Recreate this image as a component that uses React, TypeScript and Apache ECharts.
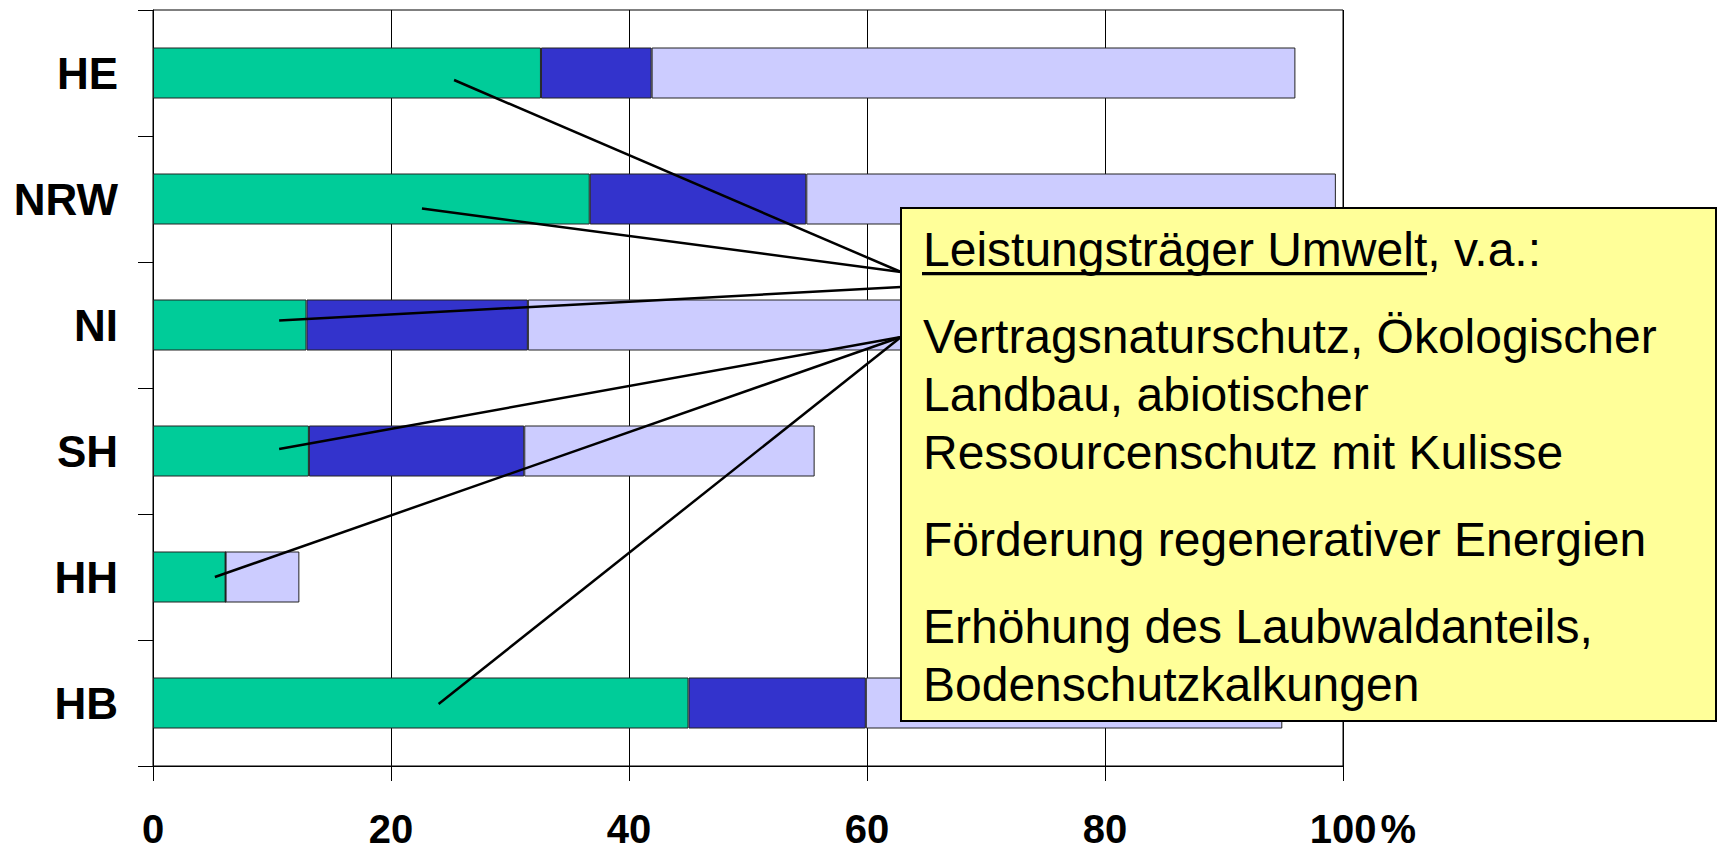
import React, { useEffect, useRef } from "react";
import * as echarts from "echarts";

// ---- Data ----
const categories = ["HE", "NRW", "NI", "SH", "HH", "HB"];
const greenValues = [32.6, 36.7, 12.9, 13.1, 6.1, 45.0];
const blueValues = [9.3, 18.2, 18.6, 18.1, 0, 14.9];
const lightValues = [54.1, 44.5, 56.5, 24.4, 6.2, 35.0];
const xTickValues = [0, 20, 40, 60, 80, 100];
const xTickLabels = ["0", "20", "40", "60", "80", "100%"];

const calloutTitle = "Leistungsträger Umwelt";
const calloutTitleRest = ", v.a.:";
const calloutParagraphs = [
  ["Vertragsnaturschutz, Ökologischer", "Landbau, abiotischer", "Ressourcenschutz mit Kulisse"],
  ["Förderung regenerativer Energien"],
  ["Erhöhung des Laubwaldanteils,", "Bodenschutzkalkungen"],
];

// leader lines: category and value where each line starts inside a bar
const leaderCategories = ["HE", "NRW", "NI", "SH", "HH", "HB"];
const leaderValues = [25.3, 22.6, 10.6, 10.6, 5.2, 24.0];
const leaderAnchorGroup = [0, 0, 1, 2, 2, 2];

const FONT = "'Liberation Sans', Arial, Helvetica, sans-serif";

export default function App() {
  const ref = useRef<HTMLDivElement>(null);

  useEffect(() => {
    if (!ref.current) return;
    const chart = echarts.init(ref.current, null, { renderer: "svg" });

    const barStyle = (color: string) => ({
      color,
      borderColor: "#222",
      borderWidth: 1,
    });

    const labelFmt = (v: number) => {
      const i = xTickValues.indexOf(v);
      const lab = i >= 0 ? xTickLabels[i] : String(v);
      if (lab.endsWith("%")) {
        return `{s| }{n|${lab.slice(0, -1)}}{p|%}`;
      }
      return lab;
    };

    const xFont = 40;
    const xLine = 34;

    chart.setOption({
      animation: false,
      backgroundColor: "#fff",
      grid: {
        left: 153,
        right: 382,
        top: 10,
        bottom: 86,
        show: true,
        borderColor: "#000",
        borderWidth: 1,
        backgroundColor: "transparent",
        containLabel: false,
        outerBoundsMode: "none",
      },
      xAxis: {
        type: "value",
        min: 0,
        max: 100,
        interval: 20,
        axisLine: { show: true, lineStyle: { color: "#000", width: 1 } },
        axisTick: { show: true, length: 15, inside: false, lineStyle: { color: "#000", width: 1 } },
        splitLine: { show: true, lineStyle: { color: "#000", width: 1 } },
        axisLabel: {
          margin: 46,
          fontSize: xFont,
          lineHeight: xLine,
          fontWeight: "bold",
          fontFamily: FONT,
          color: "#000",
          formatter: labelFmt,
          rich: {
            s: { width: 40, fontSize: xFont, lineHeight: xLine, fontWeight: "bold", fontFamily: FONT },
            n: { fontSize: xFont, lineHeight: xLine, fontWeight: "bold", fontFamily: FONT, color: "#000" },
            p: { fontSize: xFont, lineHeight: xLine, fontWeight: "bold", fontFamily: FONT, color: "#000", padding: [0, 0, 0, 4] },
          },
        },
      },
      yAxis: {
        type: "category",
        data: categories,
        inverse: true,
        axisLine: { show: true, lineStyle: { color: "#000", width: 1 } },
        axisTick: { show: true, length: 15, inside: false, lineStyle: { color: "#000", width: 1 } },
        splitLine: { show: false },
        axisLabel: {
          margin: 35,
          fontSize: 44,
          fontWeight: "bold",
          fontFamily: FONT,
          color: "#000",
        },
      },
      series: [
        { type: "bar", stack: "a", data: greenValues, barWidth: 51, itemStyle: barStyle("#00CC99") },
        { type: "bar", stack: "a", data: blueValues, barWidth: 51, itemStyle: barStyle("#3333CC") },
        { type: "bar", stack: "a", data: lightValues, barWidth: 51, itemStyle: barStyle("#CCCCFF") },
      ],
    });

    // callout layout
    const box = { x: 901, y: 208, w: 815, h: 513 };
    const anchorsY = [box.y + 64, box.y + 79, box.y + 129];
    const leaderNudgeY = [7, 9.5, -4.5, -2, 0, 1];

    const leaderEls = leaderCategories.map((c, i) => {
      const p = chart.convertToPixel({ gridIndex: 0 }, [leaderValues[i], c]) as number[];
      return {
        type: "line",
        z: 100,
        shape: { x1: p[0], y1: p[1] + leaderNudgeY[i], x2: box.x, y2: anchorsY[leaderAnchorGroup[i]] },
        style: { stroke: "#000", lineWidth: 2.5 },
      };
    });

    const textX = box.x + 22;
    const textEls: any[] = [];
    let y = box.y + 58; // baseline of first line
    textEls.push({
      type: "text",
      z: 110,
      x: textX,
      y: y - 17,
      style: {
        text: calloutTitle + calloutTitleRest,
        font: `48px ${FONT}`,
        fill: "#000",
        verticalAlign: "middle",
        align: "left",
      },
    });
    textEls.push({
      type: "rect",
      z: 110,
      shape: { x: textX - 1, y: y + 6, width: 505, height: 3.3 },
      style: { fill: "#000" },
    });
    calloutParagraphs.forEach((para) => {
      y += 29;
      para.forEach((line) => {
        y += 58;
        textEls.push({
          type: "text",
          z: 110,
          x: textX,
          y: y - 17,
          style: {
            text: line,
            font: `48px ${FONT}`,
            fill: "#000",
            verticalAlign: "middle",
            align: "left",
          },
        });
      });
    });

    chart.setOption({
      graphic: [
        ...leaderEls,
        {
          type: "rect",
          z: 105,
          shape: { x: box.x, y: box.y, width: box.w, height: box.h },
          style: { fill: "#FFFF99", stroke: "#000", lineWidth: 2 },
        },
        ...textEls,
      ],
    });

    return () => chart.dispose();
  }, []);

  return (
    <div
      ref={ref}
      style={{ position: "absolute", left: 0, top: 0, width: 1725, height: 852 }}
    />
  );
}
